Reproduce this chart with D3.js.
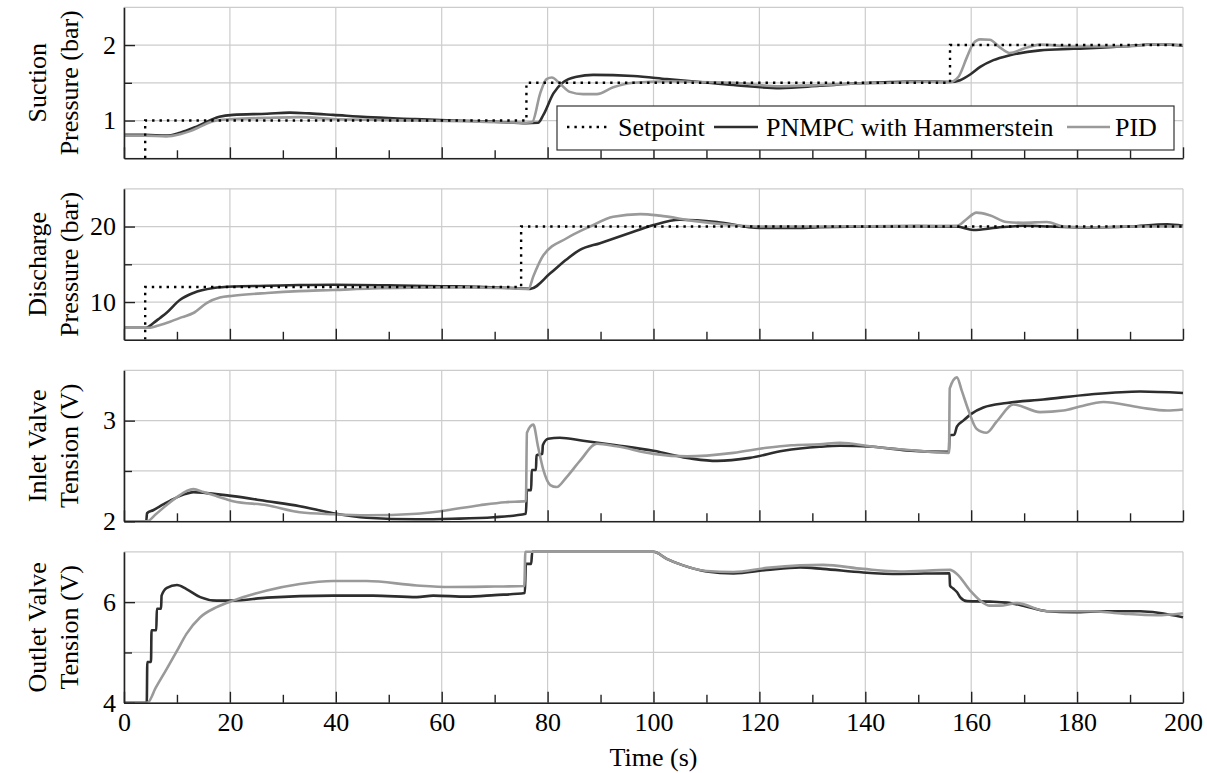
<!DOCTYPE html>
<html>
<head>
<meta charset="utf-8">
<script src="https://cdn.jsdelivr.net/npm/d3@7"></script>
</head>
<body style="margin:0">
<svg width="1207" height="773"></svg>
<script>
// time axis
var timeTicks = d3.range(0, 201, 20);
var timeMinor = d3.range(10, 200, 20);

// Suction pressure (bar)
var suctionSetpoint = [[0,0],[4,1],[76,1.5],[156,2],[200,2]];
var suctionPNMPC = [[0,0.81],[4,0.81],[8,0.8],[10.6,0.84],[14,0.93],[18,1.05],[20.6,1.075],[27,1.09],[31.3,1.105],[35,1.095],[39.5,1.075],[45.8,1.045],[55,1.02],[62,1.0],[70,0.985],[76,0.965],[78.2,0.97],[79.2,1.075],[81.1,1.36],[83,1.51],[85.5,1.58],[88.6,1.605],[96.2,1.59],[102.5,1.55],[108.8,1.51],[115.1,1.47],[123.9,1.43],[131.4,1.46],[138,1.49],[144.7,1.51],[151,1.52],[156,1.51],[157.9,1.535],[159.8,1.61],[161.7,1.71],[164.2,1.8],[167.3,1.865],[173,1.93],[179.3,1.95],[188.7,1.98],[195,2.01],[200,1.995]];
var suctionPID = [[0,0.8],[4,0.8],[8,0.79],[10.6,0.82],[12.5,0.86],[14.4,0.92],[16,0.97],[17.5,1.0],[20.6,1.02],[27,1.035],[33,1.045],[39.5,1.02],[45.8,1.01],[55,1.0],[65,0.99],[72,0.975],[76,0.97],[77.1,0.98],[78.6,1.36],[79.8,1.55],[80.8,1.57],[82.3,1.49],[84.2,1.38],[86.7,1.35],[89.3,1.35],[92.4,1.44],[96.2,1.5],[102.5,1.52],[108.8,1.51],[115.1,1.5],[124,1.455],[131.4,1.47],[138,1.49],[144.7,1.5],[151,1.515],[156,1.51],[157.6,1.58],[159.2,1.84],[160.4,2.02],[161.7,2.075],[163.5,2.07],[165.4,1.97],[167.3,1.895],[169.8,1.95],[173,2.005],[179.3,1.98],[188.7,1.98],[195,2.01],[200,2.0]];

// Discharge pressure (bar)
var dischargeSetpoint = [[0,0],[4,12],[75,20],[200,20]];
var dischargePNMPC = [[0,6.6],[4.2,6.6],[5.5,7.2],[6.8,7.9],[8,8.55],[10.6,10.3],[13.1,11.2],[16.9,11.85],[20.6,12.06],[27,12.15],[33,12.25],[39.5,12.3],[52,12.2],[60,12.1],[68,12.0],[74,11.85],[76.7,11.75],[80.5,13.8],[83.5,15.6],[86.1,16.9],[89.9,17.8],[96.2,19.3],[100,20.2],[105,20.9],[112,20.6],[120,19.8],[126,19.8],[131.4,19.9],[140,20.0],[150,20.05],[157.3,20.0],[160.4,19.55],[164.8,19.85],[169.8,20.1],[175,20.0],[182.4,19.85],[190,20.0],[197,20.3],[200,20.1]];
var dischargePID = [[0,6.6],[5,6.6],[6.5,6.9],[8.7,7.4],[11,8.0],[13.1,8.55],[15.6,9.87],[18.1,10.6],[20.6,10.83],[27,11.2],[33,11.45],[39.5,11.6],[47,11.8],[55.3,11.9],[65,11.95],[72,11.85],[76.4,11.75],[77.3,13.4],[79.2,16.2],[83.6,18.45],[88,20],[92.4,21.3],[97.5,21.65],[101.2,21.45],[107.5,20.75],[115.1,20.2],[120,20.0],[131.4,20.0],[145,20.05],[157.3,20.1],[159,20.9],[161,21.85],[163.5,21.5],[166.7,20.6],[169.8,20.5],[174.3,20.6],[177.4,20.0],[182,19.9],[190,20.0],[200,20.0]];

// Inlet valve tension (V)
var inletPNMPC = [[0,2.0],[4.2,2.0],[4.35,2.08],[5.5,2.11],[7.5,2.17],[9.3,2.22],[11.5,2.27],[13.1,2.29],[15.6,2.28],[20.6,2.25],[27,2.2],[33.2,2.15],[39.5,2.08],[45.8,2.035],[55.3,2.02],[62,2.025],[69.8,2.04],[75.9,2.075],[76.1,2.31],[76.9,2.31],[77.0,2.51],[77.8,2.51],[77.9,2.655],[79.0,2.67],[79.1,2.755],[80.1,2.82],[82.3,2.83],[86.7,2.8],[93,2.755],[100,2.7],[107.5,2.62],[112,2.6],[118.2,2.63],[124.5,2.7],[131.4,2.74],[135.2,2.75],[141.5,2.74],[147.8,2.705],[155.8,2.69],[155.9,2.855],[156.8,2.86],[157.3,2.94],[158.5,3.0],[160.1,3.07],[162.3,3.13],[166.7,3.175],[173.6,3.21],[182.4,3.26],[191.9,3.29],[200,3.275]];
var inletPID = [[0,2.0],[4.3,2.0],[6,2.07],[8,2.16],[10,2.24],[11.8,2.3],[13.1,2.32],[15,2.29],[17.5,2.25],[20.6,2.2],[27,2.16],[33.2,2.09],[39.5,2.07],[45.8,2.06],[55.3,2.075],[59.7,2.1],[67.2,2.16],[72,2.19],[75.9,2.2],[76.1,2.88],[77.3,2.96],[78.2,2.74],[79.2,2.51],[80.5,2.36],[81.7,2.34],[83.6,2.44],[86.1,2.6],[89.3,2.77],[93,2.745],[100,2.67],[106.3,2.645],[115.1,2.68],[121.4,2.73],[126,2.755],[131.4,2.765],[135.2,2.78],[141.5,2.74],[147.8,2.71],[155.8,2.68],[155.95,3.32],[157.3,3.43],[158.2,3.3],[159.5,3.1],[161,2.92],[162.9,2.88],[164.8,2.99],[168,3.16],[173,3.085],[177.4,3.1],[180.5,3.14],[185,3.185],[191.9,3.13],[197,3.1],[200,3.11]];

// Outlet valve tension (V)
var outletPNMPC = [[0,4.0],[4.3,4.0],[4.4,4.81],[5.1,4.81],[5.2,5.44],[6.1,5.44],[6.2,5.87],[7.0,5.87],[7.1,6.13],[8.1,6.285],[10,6.34],[11.8,6.26],[14.4,6.1],[17.5,6.03],[20.6,6.03],[27,6.09],[39.5,6.13],[47,6.13],[55.3,6.1],[58.4,6.13],[64.7,6.11],[70,6.14],[75.7,6.18],[75.9,6.76],[76.9,6.76],[77.1,7.0],[100,7.0],[102.5,6.86],[105.6,6.73],[110,6.61],[115.1,6.57],[121.4,6.64],[127.7,6.69],[132,6.66],[139.6,6.59],[146.5,6.56],[155.9,6.575],[156.0,6.33],[156.6,6.27],[157.3,6.2],[157.9,6.1],[159.2,6.02],[163.5,6.01],[166.7,5.99],[169.8,5.93],[174.3,5.82],[179.3,5.8],[185.6,5.82],[191.9,5.82],[200,5.7]];
var outletPID = [[0,4.0],[4.4,4.0],[6,4.3],[8.1,4.68],[10,5.03],[11.8,5.37],[14.4,5.7],[17.5,5.9],[20.6,6.03],[27,6.23],[33.2,6.36],[39.5,6.42],[45.8,6.42],[55.3,6.33],[61.6,6.3],[70,6.31],[75.6,6.32],[75.8,7.0],[100,7.0],[102.5,6.86],[105.6,6.73],[110,6.62],[115.1,6.6],[121.4,6.68],[127.7,6.73],[132,6.74],[139.6,6.66],[146.5,6.61],[156,6.64],[157.3,6.56],[159.8,6.23],[161.7,6.03],[163.5,5.93],[165.4,5.93],[168.6,5.98],[174.3,5.82],[182.4,5.82],[188.7,5.77],[195,5.74],[200,5.78]];

var legendNames = ["Setpoint", "PNMPC with Hammerstein", "PID"];

var panels = [
  {label: ["Suction", "Pressure (bar)"], domain: [0.5, 2.5], step: 0.5, ticks: [1, 2], minor: [1.5],
   setpoint: suctionSetpoint, pnmpc: suctionPNMPC, pid: suctionPID},
  {label: ["Discharge", "Pressure (bar)"], domain: [5, 25], step: 5, ticks: [10, 20], minor: [15],
   setpoint: dischargeSetpoint, pnmpc: dischargePNMPC, pid: dischargePID},
  {label: ["Inlet Valve", "Tension (V)"], domain: [2, 3.5], step: 0.5, ticks: [2, 3], minor: [2.5],
   setpoint: null, pnmpc: inletPNMPC, pid: inletPID},
  {label: ["Outlet Valve", "Tension (V)"], domain: [4, 7], step: 1, ticks: [4, 6], minor: [5],
   setpoint: null, pnmpc: outletPNMPC, pid: outletPID}
];

var svg = d3.select("svg");
var left = 124, right = 1183, ph = 151;
var dark = "#2e2e2e", light = "#9a9a9a", gridCol = "#cccccc", axisCol = "#222";
var fontFam = "'Times New Roman', 'Liberation Serif', monospace";

var x = d3.scaleLinear().domain([0, 200]).range([left, right]);

// text helper, font set on each element
function label(sel, str) {
  return sel.append("text").attr("font-size", 26).attr("font-family", fontFam)
    .style("font-family", fontFam).text(str);
}

panels.forEach(function (p, i) {
  var top = 7.3 + i * 181.5, bottom = top + ph;
  var y = d3.scaleLinear().domain(p.domain).range([bottom, top]);
  var g = svg.append("g");

  // grid
  g.selectAll(".hg").data(d3.range(p.domain[0], p.domain[1] + 1e-9, p.step)).enter()
    .append("line").attr("x1", left).attr("x2", right)
    .attr("y1", function (d) { return y(d); }).attr("y2", function (d) { return y(d); })
    .attr("stroke", gridCol).attr("stroke-width", 1.2);
  g.selectAll(".vg").data(timeTicks).enter()
    .append("line").attr("y1", top).attr("y2", bottom)
    .attr("x1", function (d) { return x(d); }).attr("x2", function (d) { return x(d); })
    .attr("stroke", gridCol).attr("stroke-width", 1.2);

  // clip
  svg.append("clipPath").attr("id", "clip" + i).append("rect")
    .attr("x", left - 2).attr("y", top - 3).attr("width", right - left + 4).attr("height", ph + 3);

  var line = d3.line().x(function (d) { return x(d[0]); }).y(function (d) { return y(d[1]); })
    .curve(d3.curveMonotoneX);
  var lines = g.append("g").attr("clip-path", "url(#clip" + i + ")");

  lines.append("path").attr("d", line(p.pnmpc)).attr("fill", "none")
    .attr("stroke", dark).attr("stroke-width", 2.6);
  lines.append("path").attr("d", line(p.pid)).attr("fill", "none")
    .attr("stroke", light).attr("stroke-width", 2.6);
  if (p.setpoint) {
    var step = d3.line().x(function (d) { return x(d[0]); }).y(function (d) { return y(d[1]); })
      .curve(d3.curveStepAfter);
    lines.append("path").attr("d", step(p.setpoint)).attr("fill", "none")
      .attr("stroke", "#000").attr("stroke-width", 2.4).attr("stroke-dasharray", "2.4,5");
  }

  // axes
  var bx = g.append("g").attr("transform", "translate(0," + bottom + ")")
    .call(d3.axisBottom(x).tickValues(timeTicks).tickSize(-11).tickSizeOuter(0).tickPadding(10)
      .tickFormat(d3.format("d")));
  g.append("g").attr("transform", "translate(0," + bottom + ")")
    .call(d3.axisBottom(x).tickValues(timeMinor).tickSize(-8).tickSizeOuter(0).tickFormat(""))
    .select(".domain").remove();
  if (i < panels.length - 1) bx.selectAll("text").remove();

  g.append("g").attr("transform", "translate(" + left + ",0)")
    .call(d3.axisLeft(y).tickValues(p.ticks).tickSize(-11).tickSizeOuter(0).tickPadding(8)
      .tickFormat(d3.format("d")));
  g.append("g").attr("transform", "translate(" + left + ",0)")
    .call(d3.axisLeft(y).tickValues(p.minor).tickSize(-8).tickSizeOuter(0).tickFormat(""))
    .select(".domain").remove();

  g.selectAll("g").attr("font-family", fontFam);
  g.selectAll(".domain").attr("stroke", axisCol).attr("stroke-width", 1.6);
  g.selectAll(".tick line").attr("stroke", axisCol).attr("stroke-width", 1.4);
  g.selectAll(".tick text").attr("font-size", 26).attr("fill", "#000")
    .attr("font-family", fontFam).style("font-family", fontFam);

  // y label
  var mid = (top + bottom) / 2;
  label(g, p.label[0]).attr("transform", "translate(46," + mid + ") rotate(-90)")
    .attr("text-anchor", "middle");
  label(g, p.label[1]).attr("transform", "translate(78," + mid + ") rotate(-90)")
    .attr("text-anchor", "middle");

  // legend in first panel
  if (i === 0) {
    var lg = g.append("g");
    lg.append("rect").attr("x", 557).attr("y", 106).attr("width", 617).attr("height", 44)
      .attr("fill", "#fff").attr("stroke", "#333").attr("stroke-width", 1.2);
    var ly = 127, ty = 136;
    lg.append("line").attr("x1", 567).attr("x2", 610).attr("y1", ly).attr("y2", ly)
      .attr("stroke", "#000").attr("stroke-width", 2.4).attr("stroke-dasharray", "2.4,5");
    label(lg, legendNames[0]).attr("x", 618).attr("y", ty);
    lg.append("line").attr("x1", 714).attr("x2", 758).attr("y1", ly).attr("y2", ly)
      .attr("stroke", dark).attr("stroke-width", 2.6);
    label(lg, legendNames[1]).attr("x", 766).attr("y", ty);
    lg.append("line").attr("x1", 1067).attr("x2", 1110).attr("y1", ly).attr("y2", ly)
      .attr("stroke", light).attr("stroke-width", 2.6);
    label(lg, legendNames[2]).attr("x", 1115).attr("y", ty);
  }
});

label(svg, "Time (s)").attr("x", (left + right) / 2).attr("y", 766).attr("text-anchor", "middle");
</script>
</body>
</html>
